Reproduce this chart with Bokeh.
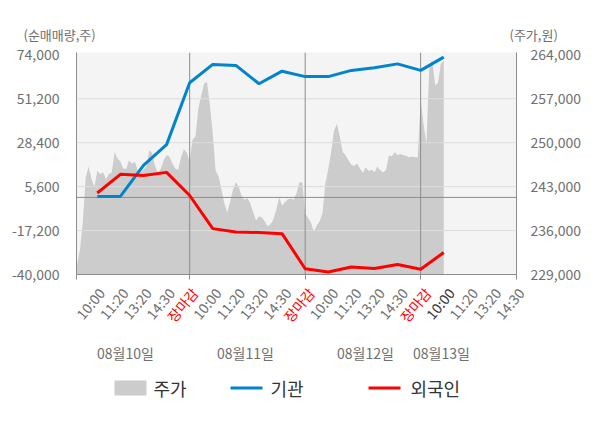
from bokeh.plotting import figure
from bokeh.layouts import column
from bokeh.models import (Range1d, LinearAxis, FixedTicker, Span, ColumnDataSource,
                          NumeralTickFormatter, CustomJSTickFormatter)
from bokeh.core.properties import value
from bokeh.embed import file_html
from bokeh.resources import INLINE

FONT = "Noto Sans CJK KR"

# ---------------- data ----------------
day_labels = ["08월10일", "08월11일", "08월12일", "08월13일"]
time_labels = ["10:00", "11:20", "13:20", "14:30", "장마감"]
left_ticks = [-40000, -17200, 5600, 28400, 51200, 74000]
right_ticks = [229000, 236000, 243000, 250000, 257000, 264000]
legend_labels = ["주가", "기관", "외국인"]

# 기관 / 외국인 net volume at each time slot (10:00, 11:20, 13:20, 14:30, 장마감 per day)
inst = [500, 500, 16600, 27400, 59500,
        69000, 68500, 59000, 65500, 62700,
        62700, 65900, 67300, 69300, 65900,
        72800]
foreign = [2300, 12000, 11400, 13000, 1000,
           -16200, -17900, -18200, -18800, -37000,
           -38700, -36100, -36900, -34800, -37300,
           -28600]

# 주가 (price), sampled 40 times per trading day
SAMPLES_PER_DAY = 40
price_day1 = [229500, 230500, 233000, 237500, 244500, 246200, 244200, 243000, 245500, 245000,
              245300, 244200, 245000, 245200, 248500, 247500, 247000, 245900, 245800, 247200,
              246600, 247000, 245600, 245300, 245700, 246200, 248800, 248300, 246300, 245200,
              245800, 247200, 248000, 247800, 246700, 245900, 245700, 247700, 249000, 248400]
price_day2 = [247000, 250500, 251000, 255500, 257500, 259400, 259700, 256000, 251500, 245500,
              244700, 242600, 240300, 238900, 240500, 242500, 243700, 243000, 241500, 240900,
              241200, 240300, 238900, 237600, 238300, 238100, 237500, 236700, 237000, 237800,
              239300, 241300, 240000, 240500, 241000, 241100, 240900, 241900, 243700, 243700]
price_day3 = [238700, 238000, 237300, 235800, 236800, 237500, 238800, 243500, 245800, 248500,
              251900, 253000, 251000, 248500, 248000, 247200, 246500, 246300, 246700, 245900,
              245200, 246100, 245500, 245700, 245300, 246200, 245600, 245300, 245600, 248000,
              247800, 248500, 248000, 248200, 248000, 247900, 247700, 247800, 247700, 247700]
price_day4 = [256700, 253000, 249800, 262000, 263300, 259200, 259500, 262600, 263100]

price = price_day1 + price_day2 + price_day3 + price_day4
price_x = [g / SAMPLES_PER_DAY for g in range(len(price))]
slot_x = [i // 5 + (i % 5 + 1) / 5 for i in range(len(inst))]

# ---------------- layout constants ----------------
W = 584
TOP_H = 44          # title strip
MAIN_TOP_B, MAIN_BOT_B = 8, 10
MAIN_H = MAIN_TOP_B + 222 + MAIN_BOT_B
BOT_H = 128         # x labels + day labels + legend
BOT_TOP = TOP_H + MAIN_H
FRAME_L, FRAME_R = 76, 520
X0, X1 = 0.02, 3.83
scale = (FRAME_R - FRAME_L) / (X1 - X0)
full_x = (X0 - FRAME_L / scale, X1 + (W - FRAME_R) / scale)


def px2x(px):
    return (px - FRAME_L) / scale + X0


AX_COL = "#8c8c8c"
LBL_COL = "#6f6f6f"
BLUE = "#0084cc"
RED = "#ff0000"
GRAY_AREA = "#cccccc"

# ---------------- main chart ----------------
p = figure(width=W, height=MAIN_H,
           x_range=Range1d(X0, X1), y_range=Range1d(-40000, 75200),
           output_backend="svg", toolbar_location=None,
           min_border_left=FRAME_L, min_border_right=W - FRAME_R,
           min_border_top=MAIN_TOP_B, min_border_bottom=MAIN_BOT_B,
           background_fill_color="#f4f4f4", border_fill_color="white",
           outline_line_color=None, frame_align=False)
p.extra_y_ranges = {"price": Range1d(229000, 264370)}
p.grid.visible = False

ly = p.yaxis[0]
ly.ticker = FixedTicker(ticks=left_ticks)
ly.formatter = NumeralTickFormatter(format="0,0")
ly.major_tick_line_color = None
ly.minor_tick_line_color = None
ly.axis_line_color = AX_COL
ly.major_label_standoff = 11
ly.major_label_text_font = FONT
ly.major_label_text_font_size = "14px"
ly.major_label_text_color = LBL_COL

ry = LinearAxis(y_range_name="price", ticker=FixedTicker(ticks=right_ticks),
                formatter=NumeralTickFormatter(format="0,0"))
ry.major_tick_line_color = None
ry.minor_tick_line_color = None
ry.axis_line_color = AX_COL
ry.major_label_standoff = 8
ry.major_label_text_font = FONT
ry.major_label_text_font_size = "14px"
ry.major_label_text_color = LBL_COL
p.add_layout(ry, "right")

bx = p.xaxis[0]
bx.ticker = FixedTicker(ticks=[X0, 1, 2, 3, X1])
bx.formatter = CustomJSTickFormatter(code="return ''")
bx.major_label_text_font_size = "0px"
bx.major_label_standoff = 0
bx.axis_line_color = AX_COL
bx.major_tick_line_color = AX_COL
bx.major_tick_in = 0
bx.major_tick_out = 5
bx.minor_tick_line_color = None

p.varea(x=price_x, y1=229000, y2=price, y_range_name="price", fill_color=GRAY_AREA)

for t in left_ticks[1:-1]:
    p.add_layout(Span(location=t, dimension="width", line_color="#dcdcdc", line_width=1))
p.add_layout(Span(location=0, dimension="width", line_color=AX_COL, line_width=1))
for d in range(1, len(day_labels)):
    p.add_layout(Span(location=d, dimension="height", line_color=AX_COL, line_width=1))

p.line(slot_x, inst, line_color=BLUE, line_width=3, level="overlay")
p.line(slot_x, foreign, line_color=RED, line_width=3, level="overlay")


def strip(h):
    f = figure(width=W, height=h, x_range=Range1d(*full_x), y_range=Range1d(0, h),
               output_backend="svg", toolbar_location=None, min_border=0,
               x_axis_location=None, y_axis_location=None, outline_line_color=None,
               background_fill_color="white", border_fill_color="white",
               frame_align=False)
    f.grid.visible = False
    return f


# ---------------- title strip ----------------
pt = strip(TOP_H)
pt.text(x=[px2x(23), px2x(509)], y=[TOP_H - 34] * 2, text=["(순매매량,주)", "(주가,원)"],
        text_align="left", text_baseline="middle", text_font=value(FONT),
        text_font_size="13px", text_color=LBL_COL)

# ---------------- bottom strip: tick labels, day labels, legend ----------------
pb = strip(BOT_H)

tx, tt, tc = [], [], []
for i in range(len(day_labels) * len(time_labels) - 1):
    d, s = divmod(i, len(time_labels))
    tx.append(d + (s + 1) / 5)
    tt.append(time_labels[s])
    if s == 4:
        tc.append(RED)
    elif d == 3 and s == 0:
        tc.append("#333333")
    else:
        tc.append(LBL_COL)
src = ColumnDataSource(dict(x=tx, y=[BOT_H - (289.5 - BOT_TOP)] * len(tx), text=tt, color=tc))
pb.text(x="x", y="y", text="text", source=src, text_color="color",
        angle=50, angle_units="deg", text_align="right", text_baseline="middle",
        x_offset=4, text_font=value(FONT), text_font_size="14px")

day_x = [px2x(c) for c in (125, 245, 365, 441)]
pb.text(x=day_x, y=[BOT_H - (352 - BOT_TOP)] * 4, text=day_labels, text_align="center",
        text_baseline="middle", text_font=value(FONT), text_font_size="14px",
        text_color=LBL_COL)

# legend (drawn in the strip)
leg_y = BOT_H - (387.5 - BOT_TOP)
pb.rect(x=[px2x(130)], y=[leg_y], width=32, height=15, width_units="screen",
        height_units="screen", fill_color=GRAY_AREA, line_color=None)
pb.segment(x0=[px2x(230), px2x(368)], y0=[leg_y] * 2, x1=[px2x(262), px2x(400)],
           y1=[leg_y] * 2, line_color=[BLUE, RED], line_width=3)
pb.text(x=[px2x(153), px2x(270), px2x(410)], y=[leg_y] * 3, text=legend_labels,
        text_align="left", text_baseline="middle", text_font=value(FONT),
        text_font_size="18px", text_color="#333333")

layout = column(pt, p, pb, spacing=0)
open("out.html", "w").write(file_html(layout, INLINE))
